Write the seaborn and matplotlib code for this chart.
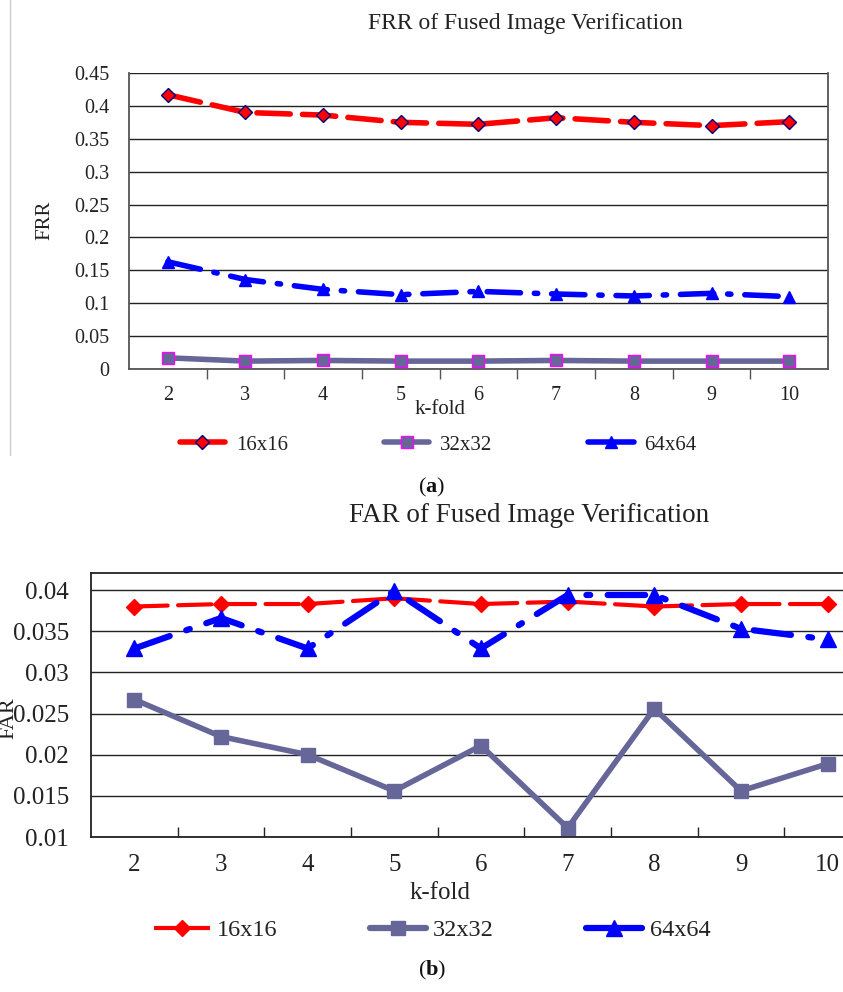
import matplotlib
matplotlib.use("Agg")
import matplotlib.pyplot as plt
from matplotlib.lines import Line2D
import pandas as pd
import seaborn as sns

# k-fold settings on the x axis
k_folds = [2, 3, 4, 5, 6, 7, 8, 9, 10]
series_names = ["16x16", "32x32", "64x64"]

# False rejection rate per image size
frr_16 = [0.417, 0.390, 0.386, 0.375, 0.372, 0.382, 0.375, 0.370, 0.376]
frr_32 = [0.017, 0.012, 0.013, 0.012, 0.012, 0.013, 0.012, 0.012, 0.012]
frr_64 = [0.163, 0.136, 0.121, 0.113, 0.118, 0.114, 0.111, 0.115, 0.110]

# False acceptance rate per image size
far_16 = [0.0380, 0.0383, 0.0383, 0.0390, 0.0383, 0.0386, 0.0380, 0.0383, 0.0383]
far_32 = [0.0267, 0.0222, 0.0200, 0.0156, 0.0211, 0.0111, 0.0256, 0.0156, 0.0189]
far_64 = [0.0329, 0.0366, 0.0329, 0.0399, 0.0329, 0.0394, 0.0394, 0.0353, 0.0340]

RED, SLATE, BLUE = "#ff0000", "#666699", "#0000ff"

sns.set_theme(style="white")
plt.rcParams["font.family"] = ["Liberation Serif", "DejaVu Serif"]
plt.rcParams["mathtext.fontset"] = "custom"
plt.rcParams["mathtext.rm"] = "Liberation Serif"
plt.rcParams["mathtext.bf"] = "Liberation Serif:bold"

W, H = 843, 992
fig = plt.figure(figsize=(W / 100, H / 100), dpi=100)


def box(l, t, r, b):
    return [l / W, 1 - b / H, (r - l) / W, (b - t) / H]


ax1 = fig.add_axes(box(129, 73, 828, 369))
ax2 = fig.add_axes(box(91, 573, 871, 837))

pos = list(range(len(k_folds)))


def draw(ax, values, styles):
    df = pd.DataFrame({"pos": pos * 3,
                       "value": sum(values, []),
                       "size": sum([[n] * len(pos) for n in series_names], [])})
    for name, st in zip(series_names, styles):
        sub = df[df["size"] == name]
        sns.lineplot(data=sub, x="pos", y="value", ax=ax, legend=False,
                     color=st["color"], lw=st["lw"], linestyle=st["ls"],
                     marker=st["marker"], markersize=st["ms"],
                     markeredgecolor=st["mec"], markerfacecolor=st["color"],
                     markeredgewidth=st.get("mew", 1.0), zorder=st["z"])
    for ln in ax.get_lines():
        ln.set_dash_capstyle("round")
        ln.set_solid_capstyle("round")


def frame(ax, ymin, ymax, fs, ypad, tick_dir, spine_col):
    ax.set_xlim(-0.5, len(k_folds) - 0.5)
    ax.set_ylim(ymin, ymax)
    ax.set_xticks(pos)
    ax.set_xticklabels([str(k) for k in k_folds], fontsize=fs, color="#222222")
    ax.set_xticks([p + 0.5 for p in pos[:-1]], minor=True)
    ax.tick_params(axis="x", which="major", length=0, pad=12)
    ax.tick_params(axis="x", which="minor", length=7, width=1,
                   direction=tick_dir, color=spine_col, bottom=True)
    ax.tick_params(axis="y", length=0, pad=ypad, labelsize=fs, labelcolor="#222222")
    ax.grid(axis="y", color="#222222", lw=1.0)
    ax.set_axisbelow(True)
    for s in ax.spines.values():
        s.set_color(spine_col)
        s.set_linewidth(1.3)
    ax.set_xlabel("")
    ax.set_ylabel("")


# ---- (a) FRR ----
styles_a = [
    dict(color=RED, lw=4.0, ls=(0, (6, 2.2)), marker="D", ms=7, mec="#000080", z=4),
    dict(color=SLATE, lw=4.0, ls="-", marker="s", ms=9, mec="#ff00ff", z=3),
    dict(color=BLUE, lw=4.0, ls=(0, (6, 2.5, 0.6, 2.5)), marker="^", ms=9, mec=BLUE, z=3),
]
draw(ax1, [frr_16, frr_32, frr_64], styles_a)
frame(ax1, 0, 0.45, 14.5, 14, "out", "#555555")
ax1.set_yticks([i * 0.05 for i in range(10)])
ax1.set_yticklabels(["0", "0.05", "0.1", "0.15", "0.2", "0.25", "0.3", "0.35", "0.4", "0.45"])
ax1.spines["top"].set_visible(False)

fig.text(525 / W, 1 - 23 / H, "FRR of Fused Image Verification", ha="center",
         va="center", fontsize=17, color="#222222")
fig.text(45 / W, 1 - 220 / H, "FRR", rotation=90, ha="center", va="center",
         fontsize=15, color="#222222")
fig.text(440 / W, 1 - 410 / H, "k-fold", ha="center", va="center",
         fontsize=15, color="#222222")
fig.add_artist(Line2D([10 / W, 10 / W], [1 - 455 / H, 1.0], color="#cccccc", lw=1))

handles_a = [
    Line2D([], [], color=RED, lw=4, marker="D", ms=7, mfc=RED, mec="#000080", solid_capstyle="round"),
    Line2D([], [], color=SLATE, lw=4, marker="s", ms=9, mfc=SLATE, mec="#ff00ff", solid_capstyle="round"),
    Line2D([], [], color=BLUE, lw=4, marker="^", ms=9, mfc=BLUE, mec=BLUE, solid_capstyle="round"),
]
fig.legend(handles_a, series_names, loc="center", bbox_to_anchor=(438 / W, 1 - 445 / H),
           ncol=3, frameon=False, fontsize=15, handlelength=2.2, handletextpad=0.5,
           columnspacing=4.6, labelcolor="#222222")
fig.text(432 / W, 1 - 487 / H, r"($\mathbf{a}$)", ha="center", va="center",
         fontsize=16, color="#111111")

# ---- (b) FAR ----
styles_b = [
    dict(color=RED, lw=3.0, ls=(0, (8, 2.5)), marker="D", ms=8, mec=RED, z=3),
    dict(color=SLATE, lw=4.0, ls="-", marker="s", ms=10, mec=SLATE, z=2),
    dict(color=BLUE, lw=4.5, ls=(0, (6, 2.8, 0.6, 2.8)), marker="^", ms=11, mec=BLUE, z=4),
]
draw(ax2, [far_16, far_32, far_64], styles_b)
frame(ax2, 0.01, 0.04207, 18, 16, "in", "#222222")
ax2.set_yticks([0.01, 0.015, 0.02, 0.025, 0.03, 0.035, 0.04])
ax2.set_yticklabels(["0.01", "0.015", "0.02", "0.025", "0.03", "0.035", "0.04"])

fig.text(529 / W, 1 - 516 / H, "FAR of Fused Image Verification", ha="center",
         va="center", fontsize=19.5, color="#222222")
fig.text(9 / W, 1 - 718 / H, "FAR", rotation=90, ha="center", va="center",
         fontsize=16, color="#222222")
fig.text(440 / W, 1 - 893 / H, "k-fold", ha="center", va="center",
         fontsize=18, color="#222222")

handles_b = [
    Line2D([], [], color=RED, lw=3, ls=(0, (5.5, 2.5)), marker="D", ms=8, mfc=RED, mec=RED),
    Line2D([], [], color=SLATE, lw=4.5, marker="s", ms=10, mfc=SLATE, mec=SLATE, solid_capstyle="round"),
    Line2D([], [], color=BLUE, lw=4.5, marker="^", ms=11, mfc=BLUE, mec=BLUE, solid_capstyle="round"),
]
fig.legend(handles_b, series_names, loc="center", bbox_to_anchor=(432 / W, 1 - 930 / H),
           ncol=3, frameon=False, fontsize=17.5, handlelength=2.3, handletextpad=0.3,
           columnspacing=3.8, labelcolor="#222222")
fig.text(432 / W, 1 - 970 / H, r"($\mathbf{b}$)", ha="center", va="center",
         fontsize=16, color="#111111")

fig.savefig("out.png", dpi=100)
